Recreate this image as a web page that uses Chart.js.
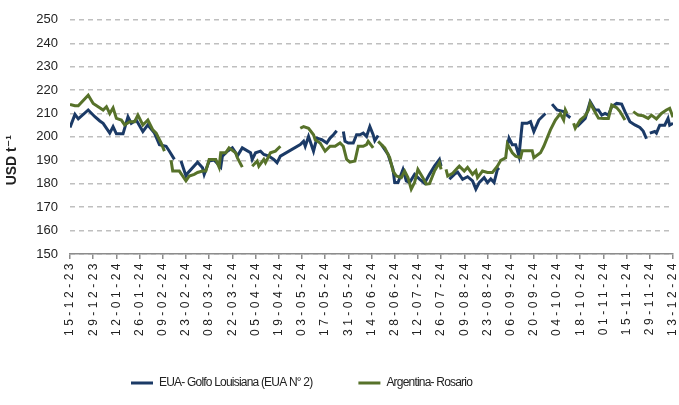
<!DOCTYPE html>
<html>
<head>
<meta charset="utf-8">
<script src="https://cdn.jsdelivr.net/npm/chart.js@4.4.1/dist/chart.umd.min.js"></script>
<style>
  html, body { margin: 0; padding: 0; background: #ffffff; }
  #wrap { width: 679px; height: 405px; }
</style>
</head>
<body>
<div id="wrap"><canvas id="priceChart" width="679" height="405"></canvas></div>
<script>
// Tick labels, one every 14 days starting on 15-12-23
const tickLabels = ['15-12-23', '29-12-23', '12-01-24', '26-01-24', '09-02-24', '23-02-24', '08-03-24',
    '22-03-24', '05-04-24', '19-04-24', '03-05-24', '17-05-24', '31-05-24', '14-06-24', '28-06-24',
    '12-07-24', '26-07-24', '09-08-24', '23-08-24', '06-09-24', '20-09-24', '04-10-24', '18-10-24',
    '01-11-24', '15-11-24', '29-11-24', '13-12-24'];

// EUA - Golfo Louisiana: day offset from 15-12-23 and price (null = no quote)
const euaDays = [0, 3, 5, 11, 15, 18, 20, 24, 26, 28, 32, 35, 37, 40, 44, 47, 51, 54, 58, 60, 63, 65,
    67, 70, 71, 77, 80, 81, 84, 87, 91, 92, 95, 98, 100, 101, 104, 109, 110, 112, 115, 117, 120, 123,
    125, 127, 139, 141, 142, 144, 147, 149, 152, 155, 157, 159, 161, 162, 165, 166, 168, 171, 173, 175,
    177, 179, 181, 183, 184, 186, 187, 188, 192, 195, 196, 198, 201, 203, 205, 208, 211, 214, 217, 220,
    223, 224, 226, 229, 232, 234, 237, 240, 243, 245, 247, 250, 252, 254, 256, 258, 259, 262, 264, 265,
    267, 269, 271, 273, 276, 278, 280, 283, 285, 287, 289, 291, 294, 298, 300, 302, 304, 306, 308, 311,
    314, 317, 319, 321, 323, 325, 327, 330, 333, 335, 338, 341, 344, 346, 348, 349, 350, 353, 354, 356,
    359, 361, 362, 364];
const euaValues = [204, 209.6, 207.7, 211.5, 208.6, 206.8, 205.8, 201.6, 204.4, 201.3, 201.3, 208.6,
    205.8, 207.2, 202.3, 205.1, 201.6, 196.7, 196, 193.9, 190.4, null,
    189.7, 183.3, 184.5, 189.2, 186.8, 184, 189.7, 190.1, 187.1, 191.8, 193.9, 195.3, 193.2, 191.8,
    195.3, 193.2, 190.4, 193.2, 193.9, 192.5, 191.8, 190.4, 189, 191.8, 196.7, 198.1, 196, 200.2,
    193.9, 199.5, 198.8, 197.4, 199.5, 200.9, 202.6, null,
    202.3, 198.1, 197.4, 197.4, 200.9, 200.9, 201.6, 200.2, 204.4, 200.9, 198.4, 200.6, null,
    196.7, 192.5, 186.1, 180.5, 180.5, 186.1, 181.2, 180.5, 184, 182, 180.2, 184, 187.5, 190.4, 187.5, null,
    181.9, 184, 185, 181.9, 183, 181.2, 177.7, 180.5, 182.6, 180.5, 182, 180.5, 186.1, 186.8, null,
    196, 199.5, 196.7, 196.7, 191.8, 205.8, 205.8, 206.5, 202.3, 207.2, 208.6, 210, null,
    214, 211.5, 210.8, 209.3, 208.2, null,
    204.4, 205.8, 207.9, 215, 211.5, 211.5, 209.3, 210, 209.3, 212.9, 214.3, 214, 210.8, 206.5, 205.1,
    204, 202.5, 199.2, null,
    201.6, 202.3, 201.6, 205, 205, 207.9, 205, 205.8];

// Argentina - Rosario
const argDays = [0, 3, 5, 11, 14, 17, 20, 22, 24, 26, 28, 31, 33, 36, 39, 41, 44, 47, 50, 52, 55, 57,
    59, 61, 62, 66, 68, 70, 72, 75, 77, 80, 82, 84, 88, 90, 91, 94, 96, 100, 101, 104, 106, 110, 113,
    114, 117, 118, 121, 124, 127, 130, 139, 141, 144, 147, 148, 151, 154, 157, 160, 163, 165, 167, 169,
    172, 174, 177, 179, 180, 183, 184, 186, 190, 193, 195, 197, 200, 202, 204, 206, 208, 210, 213, 215,
    217, 220, 223, 224, 225, 227, 228, 231, 234, 235, 238, 240, 243, 245, 246, 249, 252, 255, 258, 260,
    263, 264, 267, 269, 272, 273, 279, 280, 284, 286, 288, 290, 293, 296, 298, 299, 300, 302, 304, 305,
    308, 311, 313, 314, 317, 319, 322, 325, 327, 330, 332, 335, 337, 340, 343, 346, 349, 351, 354, 357,
    360, 362, 364];
const argValues = [213.8, 213.3, 213.3, 217.8, 214.3, 212.9, 211.5, 212.9, 210, 212.4, 207.9, 207.2,
    205.1, 206.5, 206.5, 209.3, 205.1, 207.2, 203, 201.6, 197.4, 193.9, null,
    190, 185.4, 185.4, 183.3, 181.2, 183.3, 184, 184.8, 185.4, 185.4, 190.4, 190.4, 187.1, 193.2, 193.2,
    195.3, 193.2, 191.1, 187.1, null,
    187.5, 189.7, 187.5, 190.4, 189, 193.2, 193.9, 196, null,
    203.7, 204.4, 203.7, 200.9, 198.8, 197.4, 193.9, 196, 196, 197.4, 196, 190.4, 189.2, 189.7, 196,
    196, 196.7, 198.1, 195.3, null,
    198.1, 195.3, 191.1, 185.4, 183.3, 182.6, 185.4, 182.6, 177.7, 180.5, 186.1, 182.6, 179.8, 180,
    185.4, 189, 186.1, null,
    186.1, 183.3, 184.5, 186.8, 187.5, 185.4, 187, 184, 185.5, 182.6, 185.4, 184.8, 184.8, 187.5, 190,
    191.1, 197, 193.2, 191.8, 191.1, 194.1, 194.1, 191.1, 193.2, 196, 199.5, 203, 207.2, 210, 207.2,
    211.5, 210, null,
    205.8, 203.7, 207.2, 209, 211.5, 214.5, 210.5, 208, 207.9, 207.9, 213.6, 212.5, 210.8, 207.2, null,
    210.8, 209.3, 209, 207.9, 209.3, 207.7, 210, 211.5, 212.2, 208.4];

const seriesNames = ['EUA- Golfo Louisiana (EUA N° 2)', 'Argentina- Rosario'];
const seriesColors = ['#1B3A66', '#57722A'];

const SANS = "'Liberation Sans', 'DejaVu Sans', Arial, sans-serif";

function toPoints(days, values) {
    return days.map((d, i) => ({ x: d, y: values[i] }));
}

// wrap a drawing method so its text is drawn with a given letter spacing
function withSpacing(obj, method, spacing) {
    const orig = obj[method].bind(obj);
    obj[method] = function(...args) {
        const c = this.ctx;
        c.save();
        c.letterSpacing = spacing;
        orig(...args);
        c.restore();
    };
}

// Excel look: wide date labels, compact legend text
const textSpacing = {
    id: 'textSpacing',
    beforeDraw(chart) {
        if (chart._spacingDone) return;
        const xs = chart.scales.x;
        xs._computeLabelArea = () => undefined;   // let the rotated dates run past the axis box
        withSpacing(xs, 'drawLabels', '3.5px');
        withSpacing(chart.legend, 'draw', '-0.8px');
        chart._spacingDone = true;
    }
};

// Move the legend row so it starts where the original one does
const legendOffset = {
    id: 'legendOffset',
    afterLayout(chart) {
        const lg = chart.legend;
        if (!lg || !lg.lineWidths) return;
        const pad = lg.options.labels.padding;
        const x0 = (lg.left + pad + lg.right - lg.lineWidths[0]) / 2;
        const d = 131 - x0;
        lg.left += d;
        lg.right += d;
    }
};

const ctx = document.getElementById('priceChart').getContext('2d');
new Chart(ctx, {
    type: 'line',
    data: {
        datasets: [
            {
                label: seriesNames[0],
                data: toPoints(euaDays, euaValues),
                borderColor: seriesColors[0],
                backgroundColor: seriesColors[0],
                borderWidth: 3,
                pointRadius: 0,
                tension: 0,
                spanGaps: false,
                order: 1
            },
            {
                label: seriesNames[1],
                data: toPoints(argDays, argValues),
                borderColor: seriesColors[1],
                backgroundColor: seriesColors[1],
                borderWidth: 3,
                pointRadius: 0,
                tension: 0,
                spanGaps: false,
                order: 0
            }
        ]
    },
    options: {
        responsive: false,
        animation: false,
        layout: {
            padding: { top: 17, right: 6, bottom: 6, left: 0 }
        },
        plugins: {
            tooltip: { enabled: false },
            legend: {
                position: 'bottom',
                labels: {
                    usePointStyle: true,
                    pointStyle: 'line',
                    pointStyleWidth: 22,
                    padding: 46,
                    color: '#222222',
                    font: { family: SANS, size: 12 },
                    sort: (a, b) => a.datasetIndex - b.datasetIndex
                }
            }
        },
        scales: {
            x: {
                type: 'linear',
                min: 0,
                max: 364,
                afterBuildTicks: scale => {
                    scale.ticks = tickLabels.map((_, i) => ({ value: i * 14 }));
                },
                afterFit: scale => {
                    scale.height = 77;
                    scale.paddingRight = 0;
                    scale.paddingLeft = 0;
                },
                ticks: {
                    autoSkip: false,
                    minRotation: 90,
                    maxRotation: 90,
                    padding: 1,
                    color: '#222222',
                    font: { family: SANS, size: 12 },
                    callback: value => tickLabels[Math.round(value / 14)]
                },
                grid: {
                    drawOnChartArea: false,
                    drawTicks: true,
                    tickLength: 5,
                    color: '#8c8c8c',
                    lineWidth: 1.5
                },
                border: { display: true, color: '#8c8c8c', width: 1.5 }
            },
            y: {
                min: 150,
                max: 250,
                afterFit: scale => { scale.width = 70; },
                ticks: {
                    stepSize: 10,
                    padding: 12,
                    color: '#222222',
                    font: { family: SANS, size: 13 }
                },
                grid: {
                    drawTicks: false,
                    color: '#bfbfbf',
                    lineWidth: 1.4
                },
                border: { display: false, dash: [5, 4] },
                title: {
                    display: true,
                    text: 'USD t\u207B\u00B9' + '\u2007'.repeat(6),
                    color: '#222222',
                    font: { family: SANS, size: 14, weight: 'bold' },
                    padding: { top: 4, bottom: 0 }
                }
            }
        }
    },
    plugins: [textSpacing, legendOffset]
});
</script>
</body>
</html>
